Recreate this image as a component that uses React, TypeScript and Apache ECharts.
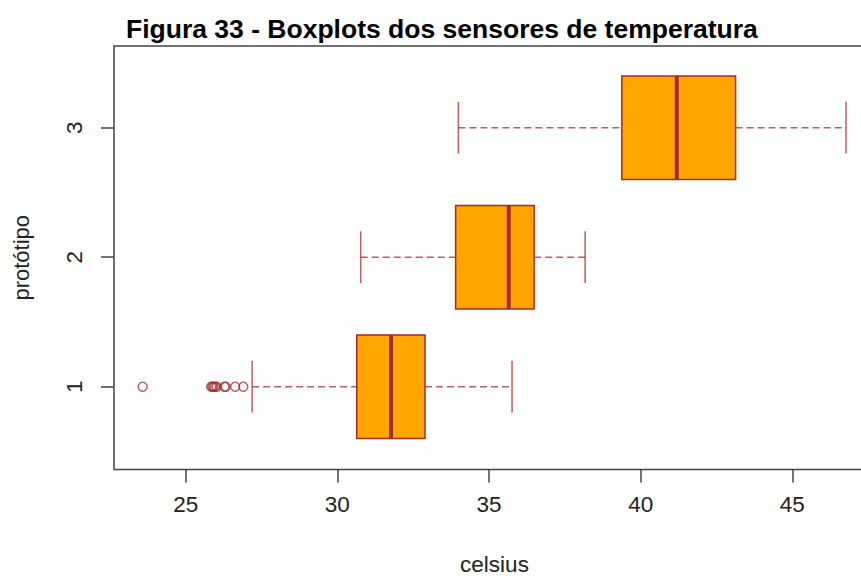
import React, { useEffect, useRef } from "react";
import * as echarts from "echarts";

const categories = [1, 2, 3];
// [whiskerLow, Q1, median, Q3, whiskerHigh]
const boxStats = [
  [27.19, 30.64, 31.77, 32.89, 35.76],
  [30.77, 33.9, 35.65, 36.49, 38.17],
  [33.99, 39.38, 41.19, 43.13, 46.77],
];
const outlierValues = [23.58, 25.84, 25.88, 25.92, 25.97, 26.02, 26.28, 26.32, 26.63, 26.9];
const outlierCategory = [1, 1, 1, 1, 1, 1, 1, 1, 1, 1];
const xTicks = [25, 30, 35, 40, 45];

const BROWN = "#A52A2A";
const ORANGE = "#FFA500";
const FONT = "'Liberation Sans', Arial, sans-serif";

export default function App() {
  const ref = useRef<HTMLDivElement>(null);
  useEffect(() => {
    if (!ref.current) return;
    const chart = echarts.init(ref.current, null, { renderer: "svg" });
    const boxData = categories.map((c, i) => [c, ...boxStats[i]]);
    const outData = outlierValues.map((v, i) => [v, outlierCategory[i]]);
    chart.setOption({
      animation: false,
      backgroundColor: "#ffffff",
      title: {
        text: "Figura 33 - Boxplots dos sensores de temperatura",
        left: 121,
        top: 10,
        textStyle: { fontFamily: FONT, fontWeight: "bold", fontSize: 26.5, color: "#000" },
      },
      grid: {
        left: 114,
        top: 46,
        width: 761,
        height: 423.5,
        outerBoundsMode: "none",
        containLabel: false,
        show: true,
        borderColor: "#444",
        borderWidth: 1.5,
        backgroundColor: "transparent",
      },
      xAxis: {
        type: "value",
        min: 22.636,
        max: 47.727,
        name: "celsius",
        nameLocation: "middle",
        nameGap: 83,
        nameTextStyle: { fontFamily: FONT, fontSize: 22.5, color: "#222" },
        axisLine: { show: false },
        splitLine: { show: false },
        axisTick: { show: true, length: 13, customValues: xTicks, lineStyle: { color: "#444", width: 1.5 } },
        axisLabel: {
          customValues: xTicks,
          margin: 23,
          fontFamily: FONT,
          fontSize: 22.5,
          color: "#222",
        },
      },
      yAxis: {
        type: "value",
        min: 0.3606,
        max: 3.631,
        name: "protótipo",
        nameLocation: "middle",
        nameRotate: 90,
        nameGap: 82,
        nameTextStyle: { fontFamily: FONT, fontSize: 22, color: "#222" },
        axisLine: { show: false },
        splitLine: { show: false },
        axisTick: { show: true, length: 13, customValues: categories, lineStyle: { color: "#444", width: 1.5 } },
        axisLabel: {
          customValues: categories,
          rotate: 90,
          margin: 28,
          fontFamily: FONT,
          fontSize: 22.5,
          color: "#222",
        },
      },
      series: [
        {
          type: "custom",
          data: boxData,
          clip: false,
          renderItem: (params: any, api: any) => {
            const y = api.value(0);
            const lo = api.coord([api.value(1), y]);
            const q1 = api.coord([api.value(2), y]);
            const md = api.coord([api.value(3), y]);
            const q3 = api.coord([api.value(4), y]);
            const hi = api.coord([api.value(5), y]);
            const half = api.size([0, 0.4])[1];
            const capHalf = half / 2;
            const cy = lo[1];
            const dashed = { stroke: BROWN, lineWidth: 1.5, lineDash: [7, 4], opacity: 0.75 };
            const solid = { stroke: BROWN, lineWidth: 1.5, opacity: 0.75 };
            return {
              type: "group",
              children: [
                { type: "line", shape: { x1: lo[0], y1: cy, x2: q1[0], y2: cy }, style: dashed },
                { type: "line", shape: { x1: q3[0], y1: cy, x2: hi[0], y2: cy }, style: dashed },
                { type: "line", shape: { x1: lo[0], y1: cy - capHalf, x2: lo[0], y2: cy + capHalf }, style: solid },
                { type: "line", shape: { x1: hi[0], y1: cy - capHalf, x2: hi[0], y2: cy + capHalf }, style: solid },
                {
                  type: "rect",
                  shape: { x: q1[0], y: cy - half, width: q3[0] - q1[0], height: 2 * half },
                  style: { fill: ORANGE, stroke: BROWN, lineWidth: 1.5 },
                },
                { type: "line", shape: { x1: md[0], y1: cy - half, x2: md[0], y2: cy + half }, style: { stroke: BROWN, lineWidth: 4 } },
              ],
            };
          },
        },
        {
          type: "scatter",
          data: outData,
          symbol: "circle",
          symbolSize: 9,
          itemStyle: { color: "rgba(255,255,255,0)", borderColor: BROWN, borderWidth: 1.4 },
        },
      ],
    });
    return () => chart.dispose();
  }, []);
  return <div ref={ref} style={{ position: "fixed", left: 0, top: 0, width: 861, height: 576 }} />;
}
